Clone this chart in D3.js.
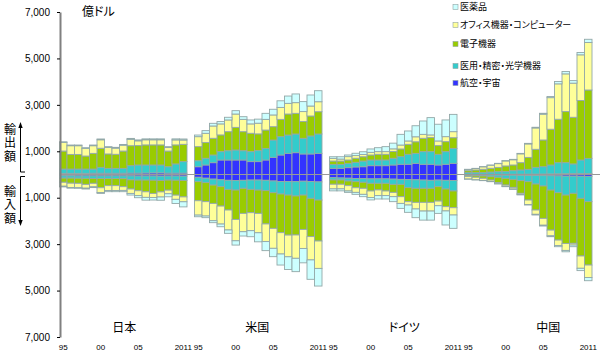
<!DOCTYPE html>
<html>
<head>
<meta charset="utf-8">
<script src="https://cdn.jsdelivr.net/npm/d3@7"></script>
<style>
  body { margin: 0; background: #fff; }
  svg text { font-family: "Liberation Sans", Arial, sans-serif; fill: #000; }
  svg text.jp { font-family: "Noto Sans CJK JP", sans-serif; font-feature-settings: "palt"; }
</style>
</head>
<body>
<div id="chart"></div>
<script>
// data (億ドル), rows in stacking order from the centre line outward:
// 航空・宇宙, 医用・精密・光学機器, 電子機器, オフィス機器・コンピューター, 医薬品
var years = [1995, 1996, 1997, 1998, 1999, 2000, 2001, 2002, 2003, 2004, 2005, 2006, 2007, 2008, 2009, 2010, 2011];
var countries = ["日本", "米国", "ドイツ", "中国"];
var categories = ["航空・宇宙", "医用・精密・光学機器", "電子機器", "オフィス機器・コンピューター", "医薬品"];
var tickYears = [1995, 2000, 2005, 2011];
var tickYearLabels = ["95", "00", "05", "2011"];
var yTicks = [7000, 5000, 3000, 1000, -1000, -3000, -5000, -7000];

var japanExports = [
  [50, 50, 50, 50, 55, 55, 55, 55, 55, 60, 60, 65, 70, 70, 60, 60, 60],
  [185, 185, 185, 185, 180, 255, 210, 210, 210, 320, 350, 345, 340, 340, 275, 395, 495],
  [775, 630, 630, 560, 675, 820, 620, 605, 745, 860, 835, 865, 865, 865, 675, 820, 745],
  [370, 375, 375, 330, 330, 365, 280, 265, 250, 275, 205, 220, 220, 220, 150, 215, 185],
  [30, 30, 30, 30, 30, 35, 35, 35, 35, 40, 40, 40, 40, 40, 40, 45, 45]
];
var japanImports = [
  [55, 55, 60, 60, 60, 60, 60, 60, 60, 60, 65, 65, 65, 70, 65, 65, 70],
  [100, 100, 100, 105, 110, 110, 110, 115, 120, 170, 175, 175, 180, 185, 175, 180, 185],
  [180, 220, 220, 260, 210, 400, 310, 305, 345, 395, 460, 505, 570, 495, 435, 645, 710],
  [170, 185, 185, 165, 150, 205, 210, 210, 160, 190, 210, 240, 175, 220, 155, 180, 210],
  [30, 30, 30, 35, 35, 40, 50, 50, 55, 70, 90, 120, 110, 140, 130, 180, 220]
];
var usExports = [
  [335, 410, 510, 625, 625, 625, 625, 555, 555, 625, 740, 840, 910, 940, 885, 885, 910],
  [260, 290, 330, 360, 400, 430, 400, 430, 475, 500, 745, 790, 790, 805, 675, 775, 835],
  [605, 675, 720, 720, 820, 975, 820, 790, 720, 790, 575, 745, 905, 890, 720, 860, 960],
  [430, 400, 530, 475, 505, 575, 530, 405, 460, 460, 505, 515, 460, 460, 430, 430, 430],
  [70, 115, 115, 100, 115, 145, 115, 170, 175, 260, 245, 285, 315, 375, 430, 475, 475]
];
var usImports = [
  [120, 160, 200, 230, 250, 260, 250, 240, 240, 250, 280, 300, 300, 310, 290, 300, 320],
  [190, 190, 255, 295, 390, 410, 345, 400, 430, 445, 505, 540, 585, 615, 595, 725, 780],
  [820, 820, 790, 835, 890, 1265, 1080, 1005, 1005, 1435, 1535, 1665, 1725, 1680, 1480, 1650, 1765],
  [620, 620, 745, 775, 860, 920, 790, 775, 835, 760, 860, 920, 935, 1005, 820, 1005, 1180],
  [70, 70, 85, 115, 145, 185, 185, 260, 390, 390, 360, 475, 545, 575, 620, 835, 760]
];
var germanyExports = [
  [265, 265, 295, 325, 335, 380, 380, 380, 410, 440, 440, 480, 440, 440, 410, 440, 480],
  [170, 170, 185, 200, 245, 245, 245, 245, 290, 330, 430, 430, 545, 545, 460, 545, 645],
  [145, 145, 145, 175, 185, 215, 245, 245, 290, 330, 430, 500, 575, 605, 375, 430, 460],
  [115, 85, 145, 115, 100, 115, 115, 115, 115, 170, 145, 215, 170, 115, 200, 215, 260],
  [70, 100, 70, 100, 115, 145, 170, 215, 245, 460, 430, 475, 575, 745, 720, 720, 745]
];
var germanyImports = [
  [140, 150, 160, 170, 180, 190, 190, 190, 200, 210, 220, 230, 240, 250, 240, 250, 260],
  [95, 85, 120, 140, 155, 190, 190, 190, 225, 215, 345, 365, 355, 345, 285, 375, 450],
  [185, 185, 200, 260, 260, 330, 285, 330, 345, 530, 605, 605, 605, 605, 620, 760, 720],
  [200, 200, 230, 200, 260, 285, 245, 200, 185, 290, 145, 285, 375, 375, 200, 185, 315],
  [85, 85, 60, 85, 100, 100, 145, 145, 215, 215, 315, 375, 390, 390, 330, 605, 575]
];
var chinaExports = [
  [10, 10, 10, 12, 12, 14, 15, 15, 17, 20, 22, 25, 30, 35, 40, 40, 45],
  [70, 70, 70, 95, 110, 110, 150, 180, 205, 290, 315, 385, 480, 475, 415, 585, 650],
  [85, 115, 145, 160, 185, 245, 245, 315, 515, 775, 1150, 1540, 1870, 2200, 2010, 2560, 2945],
  [50, 60, 105, 130, 160, 215, 225, 380, 580, 920, 1110, 1360, 1525, 1625, 1470, 1970, 2045],
  [10, 10, 12, 12, 14, 15, 18, 20, 25, 30, 40, 50, 100, 100, 110, 100, 140]
];
var chinaImports = [
  [20, 20, 25, 25, 25, 30, 30, 35, 40, 45, 50, 55, 60, 70, 70, 75, 80],
  [15, 30, 40, 70, 95, 135, 180, 230, 270, 365, 445, 615, 725, 815, 740, 950, 1090],
  [55, 70, 100, 145, 230, 290, 345, 545, 790, 1120, 1395, 1725, 2040, 2085, 2155, 2485, 2730],
  [105, 105, 90, 60, 45, 55, 70, 50, 190, 185, 295, 245, 235, 300, 75, 530, 535],
  [10, 10, 10, 10, 12, 15, 18, 20, 25, 30, 35, 40, 50, 60, 70, 100, 140]
];

var exportsByCountry = [japanExports, usExports, germanyExports, chinaExports];
var importsByCountry = [japanImports, usImports, germanyImports, chinaImports];

var colors = ["#3333ff", "#33cccc", "#99cc00", "#ffff99", "#ccffff"];
var keys = ["aero", "medical", "electronics", "office", "pharma"];

var width = 600, height = 359;

var svg = d3.select("#chart").append("svg")
    .attr("width", width)
    .attr("height", height);

var y = d3.scaleLinear()
    .domain([-7000, 7000])
    .range([337, 12]);

var x0 = d3.scaleBand()
    .domain(countries)
    .range([59.5, 592])
    .paddingInner(1 / 18);

var x1 = d3.scaleBand()
    .domain(years)
    .range([0, x0.bandwidth()]);

var stack = d3.stack().keys(keys);

countries.forEach(function (country, ci) {
  var g = svg.append("g")
      .attr("transform", "translate(" + x0(country) + ",0)");

  [[exportsByCountry[ci], 1], [importsByCountry[ci], -1]].forEach(function (pair) {
    var rows = years.map(function (yr, i) {
      var o = {year: yr};
      keys.forEach(function (k, j) { o[k] = pair[0][j][i]; });
      return o;
    });
    var sign = pair[1];

    g.append("g").selectAll("g")
      .data(stack(rows))
      .enter().append("g")
        .attr("fill", function (d, i) { return colors[i]; })
      .selectAll("rect")
      .data(function (d) { return d; })
      .enter().append("rect")
        .attr("x", function (d) { return x1(d.data.year); })
        .attr("width", x1.bandwidth())
        .attr("y", function (d) { return Math.min(y(sign * d[0]), y(sign * d[1])); })
        .attr("height", function (d) { return Math.abs(y(sign * d[1]) - y(sign * d[0])); })
        .attr("stroke", "#93a8a8")
        .attr("stroke-width", 0.9);
  });

  // year labels under each group
  g.append("g")
      .attr("transform", "translate(0,341)")
      .call(d3.axisBottom(x1)
        .tickValues(tickYears)
        .tickSize(0)
        .tickFormat(function (d) { return tickYearLabels[tickYears.indexOf(d)]; }))
      .call(function (a) {
        a.select(".domain").remove();
        a.selectAll("text")
          .attr("font-size", 8)
          .style("font-family", "'Liberation Sans', Arial, sans-serif");
      });
});

// country names (not quite centred in the original)
var labelShift = [1, -1, 11, 20];
svg.append("g").selectAll("text")
  .data(countries)
  .enter().append("text")
    .attr("class", "jp")
    .attr("x", function (d, i) { return x0(d) + x0.bandwidth() / 2 + labelShift[i]; })
    .attr("y", 332)
    .attr("text-anchor", "middle")
    .attr("font-size", 12)
    .text(function (d) { return d; });

// centre line
svg.append("line")
    .attr("x1", 60).attr("x2", width)
    .attr("y1", y(0)).attr("y2", y(0))
    .attr("stroke", "#999")
    .attr("stroke-width", 1);

// y axis
var yAxis = svg.append("g")
    .attr("transform", "translate(60,0)")
    .call(d3.axisLeft(y)
      .tickValues(yTicks)
      .tickSize(3)
      .tickSizeOuter(0)
      .tickPadding(7)
      .tickFormat(function (d) { return d3.format(",")(Math.abs(d)); }));
yAxis.select(".domain").attr("stroke", "#808080").attr("stroke-width", 2);
yAxis.selectAll("text")
    .attr("font-size", 10)
    .style("font-family", "'Liberation Sans', Arial, sans-serif");

svg.append("text")
    .attr("class", "jp")
    .attr("x", 82).attr("y", 16)
    .attr("font-size", 12)
    .text("億ドル");

// 輸出額 / 輸入額 written top to bottom, with arrows
var sideLabels = ["輸出額", "輸入額"];
var sideTop = [123, 185];
svg.append("g").selectAll("text")
  .data(sideLabels)
  .enter().append("text")
    .attr("class", "jp")
    .attr("x", 10)
    .attr("y", function (d, i) { return sideTop[i]; })
    .attr("font-size", 12)
    .style("writing-mode", "vertical-rl")
    .style("letter-spacing", "1.5px")
    .text(function (d) { return d; });

svg.append("path")
    .attr("d", "M25,172H20.5V127")
    .attr("fill", "none").attr("stroke", "#000");
svg.append("path")
    .attr("d", "M18.3,128L20.5,122L22.7,128Z")
    .attr("fill", "#000");
svg.append("path")
    .attr("d", "M25,176.5H20.5V221")
    .attr("fill", "none").attr("stroke", "#000");
svg.append("path")
    .attr("d", "M18.3,220L20.5,226L22.7,220Z")
    .attr("fill", "#000");

// legend, outermost category first
var legendOrder = [4, 3, 2, 1, 0];
var legendY = [7, 25, 44, 66, 83];
var legend = svg.append("g").selectAll("g")
  .data(legendOrder)
  .enter().append("g")
    .attr("transform", function (d, i) { return "translate(453," + legendY[i] + ")"; });

legend.append("rect")
    .attr("x", 0).attr("y", -2.5)
    .attr("width", 5).attr("height", 5)
    .attr("fill", function (d) { return colors[d]; })
    .attr("stroke", "#8fa3a3")
    .attr("stroke-width", 0.6);

legend.append("text")
    .attr("class", "jp")
    .attr("x", 7)
    .attr("dy", "0.36em")
    .attr("font-size", 9)
    .text(function (d) { return categories[d]; });
</script>
</body>
</html>
